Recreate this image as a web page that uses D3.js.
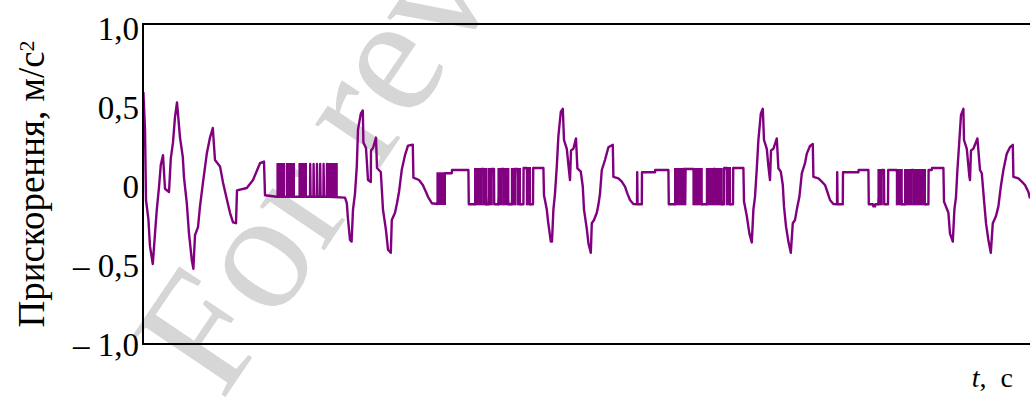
<!DOCTYPE html>
<html>
<head>
<meta charset="utf-8">
<script src="https://cdn.jsdelivr.net/npm/d3@7"></script>
<style>
  body { margin: 0; background: #fff; }
  svg { display: block; font-family: "Liberation Serif", "Times New Roman", serif; }
</style>
</head>
<body>
<div id="chart"></div>
<script>
(function () {

  // Acceleration trace, [t (s), a (m/s^2)], one array per stride
  const stride0 = [[0.002,0.575],[0.010,0.34],[0.015,-0.10],[0.027,-0.22],[0.035,-0.39],[0.049,-0.50],[0.060,-0.31],[0.069,-0.16],[0.080,-0.02],[0.089,0.12],[0.100,0.18],[0.110,-0.03],[0.130,-0.05],[0.139,0.16],[0.150,0.26],[0.160,0.42],[0.170,0.51],[0.185,0.29],[0.199,0.17],[0.205,0.04],[0.219,-0.12],[0.230,-0.31],[0.244,-0.475],[0.252,-0.53],[0.260,-0.32],[0.275,-0.27],[0.285,-0.14],[0.300,0.01],[0.319,0.19],[0.335,0.29],[0.349,0.35],[0.360,0.15],[0.385,0.11],[0.400,0.01],[0.420,-0.10],[0.435,-0.18],[0.450,-0.24],[0.465,-0.245],[0.470,-0.04],[0.519,-0.025],[0.550,0.025],[0.585,0.13],[0.605,0.14],[0.610,-0.07],[0.669,-0.08],
    [0.835,-0.08],[0.836,0.125],[0.838,-0.08],[0.852,-0.08],[0.853,0.125],[0.855,-0.08],[0.869,-0.08],[0.870,0.125],[0.872,-0.08],[0.885,-0.08],[0.886,0.125],[0.888,-0.08],[0.902,-0.08],[0.903,0.125],[0.905,-0.08],[0.919,-0.08],[0.920,0.125],[0.922,-0.08],[1.010,-0.085],[1.019,-0.12],[1.025,-0.22],[1.035,-0.35],[1.043,-0.36]]

  const stride1 = [[1.050,-0.16],[1.060,-0.06],[1.069,0.11],[1.075,0.34],[1.089,0.44],[1.099,0.46],[1.102,0.26],[1.115,0.225],[1.125,0.025],[1.139,0.0125],[1.140,0.21],[1.150,0.225],[1.165,0.29],[1.170,0.10],[1.189,0.075],[1.200,-0.16],[1.215,-0.29],[1.225,-0.41],[1.239,-0.43],[1.244,-0.225],[1.260,-0.18],[1.270,-0.12],[1.280,-0.05],[1.294,0.09],[1.310,0.18],[1.325,0.24],[1.349,0.245],[1.352,0.04],[1.380,0.025],[1.399,-0.006],[1.415,-0.05],[1.425,-0.08],[1.444,-0.12],[1.472,-0.125],[1.510,0.067],[1.544,0.067],[1.545,0.0875],[1.627,0.0875],[1.629,-0.127],[1.660,-0.127],[1.694,0.094],[1.702,0.094],[1.715,-0.127],[1.727,-0.127],[1.744,0.094],[1.755,0.094],[1.756,-0.127],[1.777,-0.127],[1.794,0.094],[1.802,0.094],[1.827,-0.127],[1.844,-0.127],[1.860,0.094],[1.872,0.094],[1.885,-0.127],[1.902,-0.127],[1.903,0.10],[1.919,0.10],[1.935,-0.127],[1.950,-0.127],[1.951,0.10],[2.002,0.10],[2.005,-0.07],[2.019,-0.16],[2.025,-0.23],[2.039,-0.36],[2.045,-0.36]]

  const stride2 = [[2.052,-0.16],[2.060,-0.06],[2.069,0.11],[2.077,0.30],[2.089,0.45],[2.099,0.47],[2.105,0.275],[2.119,0.22],[2.127,0.12],[2.135,0.025],[2.140,0.21],[2.152,0.22],[2.165,0.285],[2.172,0.098],[2.189,0.077],[2.199,-0.017],[2.205,-0.16],[2.219,-0.28],[2.227,-0.37],[2.239,-0.43],[2.244,-0.245],[2.255,-0.225],[2.269,-0.18],[2.277,-0.13],[2.285,-0.06],[2.294,0.0875],[2.310,0.15],[2.327,0.23],[2.349,0.245],[2.352,0.045],[2.377,0.035],[2.394,0.015],[2.410,-0.017],[2.422,-0.06],[2.435,-0.10],[2.452,-0.125],[2.470,-0.127],[2.471,0.073],[2.473,-0.127],[2.494,-0.127],[2.495,0.073],[2.560,0.073],[2.561,0.0875],[2.627,0.0875],[2.629,-0.127],[2.660,-0.127],[2.702,0.094],[2.710,0.094],[2.711,-0.127],[2.713,0.094],[2.752,0.094],[2.794,-0.127],[2.819,-0.127],[2.852,0.094],[2.860,0.094],[2.894,-0.127],[2.905,-0.127],[2.906,0.10],[2.919,0.10],[2.935,-0.127],[2.950,-0.127],[2.951,0.10],[3.002,0.10],[3.005,-0.11],[3.019,-0.20],[3.032,-0.31],[3.044,-0.365]]

  const stride3 = [[3.052,-0.16],[3.060,-0.08],[3.069,0.098],[3.077,0.275],[3.089,0.44],[3.099,0.47],[3.105,0.275],[3.119,0.22],[3.127,0.11],[3.135,0.025],[3.140,0.21],[3.152,0.22],[3.169,0.285],[3.177,0.098],[3.189,0.077],[3.199,-0.006],[3.205,-0.14],[3.215,-0.265],[3.227,-0.36],[3.239,-0.43],[3.249,-0.245],[3.260,-0.225],[3.272,-0.14],[3.282,-0.08],[3.294,0.067],[3.310,0.13],[3.319,0.19],[3.335,0.2375],[3.349,0.25],[3.352,0.045],[3.377,0.035],[3.394,0.015],[3.410,-0.006],[3.422,-0.05],[3.435,-0.10],[3.452,-0.125],[3.470,-0.127],[3.471,0.073],[3.473,-0.127],[3.499,-0.127],[3.500,0.073],[3.577,0.073],[3.578,0.0875],[3.627,0.0875],[3.629,-0.127],[3.650,-0.127],[3.652,-0.14],[3.660,-0.14],[3.662,-0.127],[3.677,-0.127],[3.694,0.0875],[3.705,0.0875],[3.706,-0.127],[3.725,-0.127],[3.726,0.0875],[3.769,0.0875],[3.794,-0.127],[3.810,-0.127],[3.844,0.0875],[3.852,0.0875],[3.910,-0.127],[3.927,-0.127],[3.928,0.0875],[3.944,0.0875],[3.945,0.10],[4.002,0.10],[4.005,-0.11],[4.027,-0.18],[4.035,-0.31],[4.049,-0.36]]

  const stride4 = [[4.057,-0.16],[4.065,-0.08],[4.072,0.0875],[4.082,0.275],[4.090,0.43],[4.102,0.47],[4.105,0.275],[4.119,0.22],[4.132,0.045],[4.135,0.025],[4.140,0.21],[4.152,0.22],[4.172,0.285],[4.185,0.0875],[4.194,0.067],[4.205,-0.10],[4.215,-0.245],[4.227,-0.35],[4.239,-0.43],[4.249,-0.245],[4.265,-0.20],[4.277,-0.14],[4.289,-0.017],[4.302,0.0875],[4.319,0.19],[4.335,0.23],[4.349,0.245],[4.352,0.045],[4.377,0.035],[4.394,0.015],[4.410,-0.006],[4.427,-0.05],[4.435,-0.09]]

  // Dense switching bursts: [t start, t end, low level, high level]
  const bursts = [[0.672,0.705,-0.08,0.125],[0.719,0.755,-0.08,0.125],[0.782,0.815,-0.08,0.125],[0.925,0.940,-0.08,0.125],[0.949,0.969,-0.08,0.125],
    [1.472,1.510,-0.125,0.067],[1.660,1.694,-0.127,0.094],[1.702,1.715,-0.127,0.094],[1.727,1.744,-0.127,0.094],[1.777,1.794,-0.127,0.094],[1.802,1.827,-0.127,0.094],[1.844,1.860,-0.127,0.094],[1.872,1.885,-0.127,0.094],[1.919,1.935,-0.127,0.10],
    [2.660,2.702,-0.127,0.094],[2.752,2.794,-0.127,0.094],[2.819,2.852,-0.127,0.094],[2.860,2.894,-0.127,0.094],[2.919,2.935,-0.127,0.10],
    [3.677,3.694,-0.127,0.0875],[3.769,3.794,-0.127,0.0875],[3.810,3.844,-0.127,0.0875],[3.852,3.910,-0.127,0.0875]]

  const yTicks = [1, 0.5, 0, -0.5, -1]
  const yTickLabels = ["1,0", "0,5", "0", "\u2013 0,5", "\u2013 1,0"]

  const accel = [].concat(stride0, stride1, stride2, stride3, stride4)

  const W = 1030, H = 401
  const plot = { left: 143, right: 1032, top: 24, bottom: 344 }

  const svg = d3.select("#chart").append("svg")
      .attr("width", W)
      .attr("height", H)

  const x = d3.scaleLinear().domain([0, 4.435]).range([plot.left, 1030])
  const y = d3.scaleLinear().domain([-1, 1]).range([plot.bottom, plot.top])
  // tick labels sit a little lower than the values they mark
  const yLabel = d3.scaleLinear().domain([-1, 1]).range([345, 29])

  // Watermark (behind the chart)
  svg.append("text")
      .attr("transform", "translate(222,402) rotate(-56)")
      .attr("fill", "#d6d6d6")
      .style("font-size", "170px")
      .text("For review only")

  svg.append("clipPath").attr("id", "clip")
    .append("rect")
      .attr("x", plot.left).attr("y", plot.top)
      .attr("width", plot.right - plot.left).attr("height", plot.bottom - plot.top)

  const g = svg.append("g").attr("clip-path", "url(#clip)")

  const purple = "#800080"

  g.selectAll("rect.burst")
    .data(bursts)
    .join("rect")
      .attr("class", "burst")
      .attr("x", d => x(d[0]))
      .attr("width", d => x(d[1]) - x(d[0]))
      .attr("y", d => y(d[3]))
      .attr("height", d => y(d[2]) - y(d[3]))
      .attr("fill", purple)
      .attr("stroke", purple)
      .attr("stroke-width", 2)

  const line = d3.line()
      .x(d => x(d[0]))
      .y(d => y(d[1]))

  g.append("path")
      .datum(accel)
      .attr("d", line)
      .attr("fill", "none")
      .attr("stroke", purple)
      .attr("stroke-width", 2.4)
      .attr("stroke-linejoin", "round")

  // Frame
  svg.append("rect")
      .attr("x", plot.left).attr("y", plot.top)
      .attr("width", plot.right - plot.left).attr("height", plot.bottom - plot.top)
      .attr("fill", "none")
      .attr("stroke", "#000")
      .attr("stroke-width", 2)

  // Y axis labels
  const yAxis = svg.append("g")
      .attr("transform", "translate(" + plot.left + ",0)")
      .call(d3.axisLeft(yLabel)
        .tickValues(yTicks)
        .tickSize(0)
        .tickPadding(4)
        .tickFormat((d, i) => yTickLabels[i]))
  yAxis.select(".domain").remove()
  yAxis.selectAll("text")
      .attr("fill", "#000")
      .style("font-family", "'Liberation Serif', serif")
      .style("font-size", "33px")

  // Y axis title
  const yTitle = svg.append("text")
      .attr("transform", "translate(44," + ((plot.top + plot.bottom) / 2) + ") rotate(-90)")
      .attr("text-anchor", "middle")
      .style("font-size", "37px")
  yTitle.append("tspan").text("Прискорення, м/с")
  yTitle.append("tspan").attr("dy", "-0.45em").style("font-size", "22px").text("2")

  // X axis title
  const xTitle = svg.append("text")
      .attr("x", 1013)
      .attr("y", 387)
      .attr("text-anchor", "end")
      .style("font-size", "28px")
  xTitle.append("tspan").style("font-style", "italic").text("t")
  xTitle.append("tspan").text(",\u2002c")

})();
</script>
</body>
</html>
